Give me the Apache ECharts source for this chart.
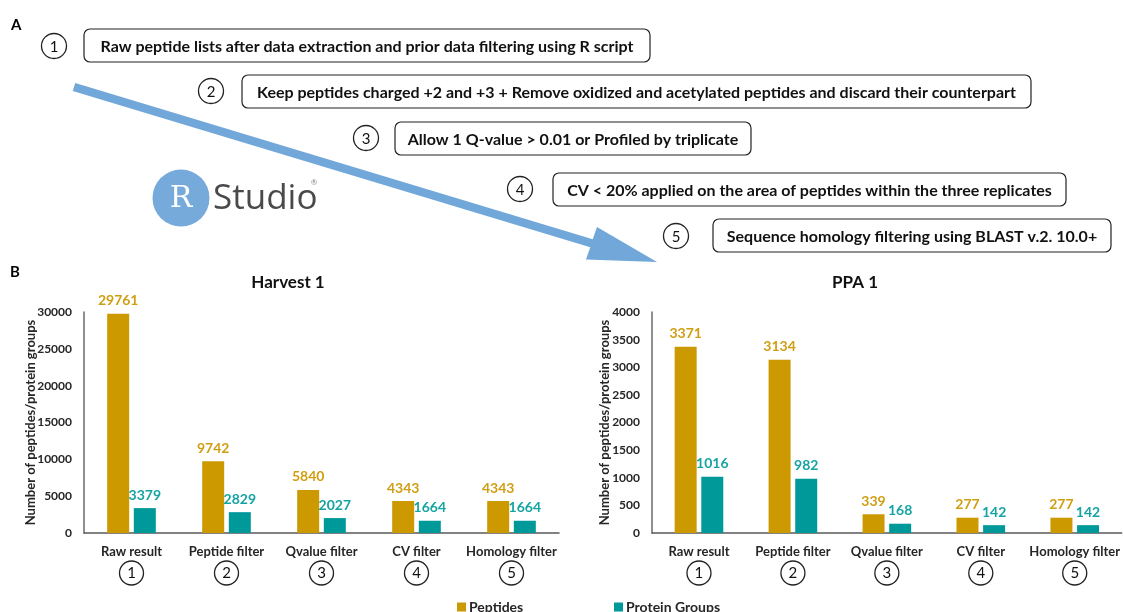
<!DOCTYPE html>
<html><head><meta charset="utf-8">
<script src="https://cdn.jsdelivr.net/npm/echarts@6/dist/echarts.min.js"></script>
<style>html,body{margin:0;padding:0;background:#fff}#c{width:1123px;height:612px}</style>
</head><body><div id="c"></div>
<script>
const categories = ['Raw result','Peptide filter','Qvalue filter','CV filter','Homology filter'];
const stepNumbers = ['1','2','3','4','5'];
const harvestPeptides = [29761, 9742, 5840, 4343, 4343];
const harvestProteins = [3379, 2829, 2027, 1664, 1664];
const ppaPeptides = [3371, 3134, 339, 277, 277];
const ppaProteins = [1016, 982, 168, 142, 142];
const harvestTicks = {min:0, max:30000, interval:5000};
const ppaTicks = {min:0, max:4000, interval:500};
const stepTexts = [
  'Raw peptide lists after data extraction and prior data filtering using R script',
  'Keep peptides charged +2 and +3 + Remove oxidized and acetylated peptides and discard their counterpart',
  'Allow 1 Q-value > 0.01 or Profiled by triplicate',
  'CV < 20% applied on the area of peptides within the three replicates',
  'Sequence homology filtering using BLAST v.2. 10.0+'
];

const FONT = 'Lato, "Open Sans", sans-serif';
const PEP = '#CC9900', PROT = '#009999';
const PEP_L = '#D09E12', PROT_L = '#16A3A3';
const TXT = '#262626';

// panel A layout (positions only)
const boxes = [
  {cx:54, cy:46, x:84, y:29, w:566, h:33},
  {cx:211, cy:91, x:242, y:75, w:789, h:33},
  {cx:366, cy:138, x:395, y:122, w:356, h:33},
  {cx:520, cy:189, x:553, y:173, w:513, h:33},
  {cx:676, cy:236, x:713, y:219, w:398, h:33}
];
const graphics = [];
graphics.push({type:'text', left:11, top:18, style:{text:'A', font:'bold 15px '+FONT, fill:'#000'}});
graphics.push({type:'text', left:10, top:265, style:{text:'B', font:'bold 15px '+FONT, fill:'#000'}});
boxes.forEach((b,i)=>{
  graphics.push({type:'circle', shape:{cx:b.cx, cy:b.cy, r:12.5}, style:{fill:'#fff', stroke:'#222', lineWidth:1.3}});
  graphics.push({type:'text', x:b.cx, y:b.cy+1, style:{text:stepNumbers[i], font:'15px '+FONT, fill:'#111', align:'center', verticalAlign:'middle'}});
  graphics.push({type:'rect', shape:{x:b.x, y:b.y, width:b.w, height:b.h, r:6}, style:{fill:'#fff', stroke:'#222', lineWidth:1.2}});
  graphics.push({type:'text', x:b.x+b.w/2, y:b.y+b.h/2+1, style:{text:stepTexts[i], font:'bold 16px '+FONT, fill:'#111', align:'center', verticalAlign:'middle'}});
});
// arrow
(function(){
  const sx=74, sy=87, tx=657, ty=262;
  const c1=[597,227], c2=[586,259.5];
  const mx=(c1[0]+c2[0])/2, my=(c1[1]+c2[1])/2;
  const dx=mx-sx, dy=my-sy, len=Math.hypot(dx,dy);
  const nx=-dy/len, ny=dx/len, sw=4.3;
  graphics.push({type:'polygon', z:5, shape:{points:[
    [sx-nx*sw, sy-ny*sw],[mx-nx*sw, my-ny*sw],c1,[tx,ty],c2,
    [mx+nx*sw, my+ny*sw],[sx+nx*sw, sy+ny*sw]]},
    style:{fill:'#72A7D9'}});
})();
// RStudio logo
graphics.push({type:'circle', shape:{cx:181, cy:198, r:28.5}, style:{fill:'#75AADB'}});
graphics.push({type:'text', x:181, y:199, style:{text:'R', font:'30px "DejaVu Serif", serif', fill:'#fff', align:'center', verticalAlign:'middle'}});
graphics.push({type:'text', x:213, y:199, style:{text:'Studio', font:'35px "Open Sans", '+FONT, fill:'#4A4A4A', align:'left', verticalAlign:'middle'}});
graphics.push({type:'text', x:314, y:182, style:{text:'®', font:'8px '+FONT, fill:'#888', align:'center', verticalAlign:'middle'}});
// chart titles
graphics.push({type:'text', x:288, y:283, style:{text:'Harvest 1', font:'bold 17px '+FONT, fill:'#111', align:'center', verticalAlign:'middle'}});
graphics.push({type:'text', x:855, y:283, style:{text:'PPA 1', font:'bold 17px '+FONT, fill:'#111', align:'center', verticalAlign:'middle'}});

const catAxis = (gi)=>({
  type:'category', gridIndex:gi, data:categories,
  axisLine:{lineStyle:{color:'#595959', width:1.5}},
  axisTick:{show:false},
  axisLabel:{margin:10, interval:0,
    formatter:(v,idx)=>'{n|'+v+'}\n{c|'+stepNumbers[idx]+'}',
    rich:{
      n:{fontFamily:FONT, fontWeight:'bold', fontSize:13, color:TXT, lineHeight:18},
      c:{fontFamily:FONT, fontSize:15, color:'#111', width:24, height:24, lineHeight:24, align:'center',
         borderColor:'#222', borderWidth:1.3, borderRadius:13}
    }}
});
const valAxis = (gi, t, gap)=>({
  type:'value', gridIndex:gi, min:t.min, max:t.max, interval:t.interval,
  name:'Number of peptides/protein groups', nameLocation:'middle', nameGap:gap, nameMoveOverlap:false,
  nameTextStyle:{fontFamily:FONT, fontWeight:'bold', fontSize:13, color:TXT},
  axisLine:{show:true, lineStyle:{color:'#6b6b6b', width:1.5}},
  axisTick:{show:false},
  splitLine:{show:false},
  axisLabel:{margin:12, fontFamily:FONT, fontWeight:'bold', fontSize:12, color:TXT, formatter:(v)=>String(v)}
});
const lbl = (c)=>({show:true, position:'top', distance:6, fontFamily:FONT, fontWeight:'bold', fontSize:14, color:c});
const bar = (name, data, xi, color, lc)=>({
  type:'bar', name, data, xAxisIndex:xi, yAxisIndex:xi, barWidth:22, barGap:'21%',
  itemStyle:{color}, label:lbl(lc)
});

const chart = echarts.init(document.getElementById('c'), null, {renderer:'canvas'});
chart.setOption({
  animation:false,
  backgroundColor:'#fff',
  textStyle:{fontFamily:FONT},
  grid:[
    {left:84, top:312, width:475, height:221},
    {left:652, top:312, width:471, height:221}
  ],
  xAxis:[catAxis(0), catAxis(1)],
  yAxis:[valAxis(0, harvestTicks, 47), valAxis(1, ppaTicks, 41)],
  legend:[
    {data:['Peptides'], left:452, top:595, icon:'rect', itemWidth:9, itemHeight:9, itemGap:4,
     textStyle:{fontFamily:FONT, fontWeight:'bold', fontSize:14, color:TXT, padding:[0,0,0,-2]}},
    {data:['Protein Groups'], left:609, top:595, icon:'rect', itemWidth:9, itemHeight:9,
     textStyle:{fontFamily:FONT, fontWeight:'bold', fontSize:14, color:TXT, padding:[0,0,0,-2]}}
  ],
  series:[
    bar('Peptides', harvestPeptides, 0, PEP, PEP_L),
    bar('Protein Groups', harvestProteins, 0, PROT, PROT_L),
    bar('Peptides', ppaPeptides, 1, PEP, PEP_L),
    bar('Protein Groups', ppaProteins, 1, PROT, PROT_L)
  ],
  graphic:graphics
});
</script></body></html>
